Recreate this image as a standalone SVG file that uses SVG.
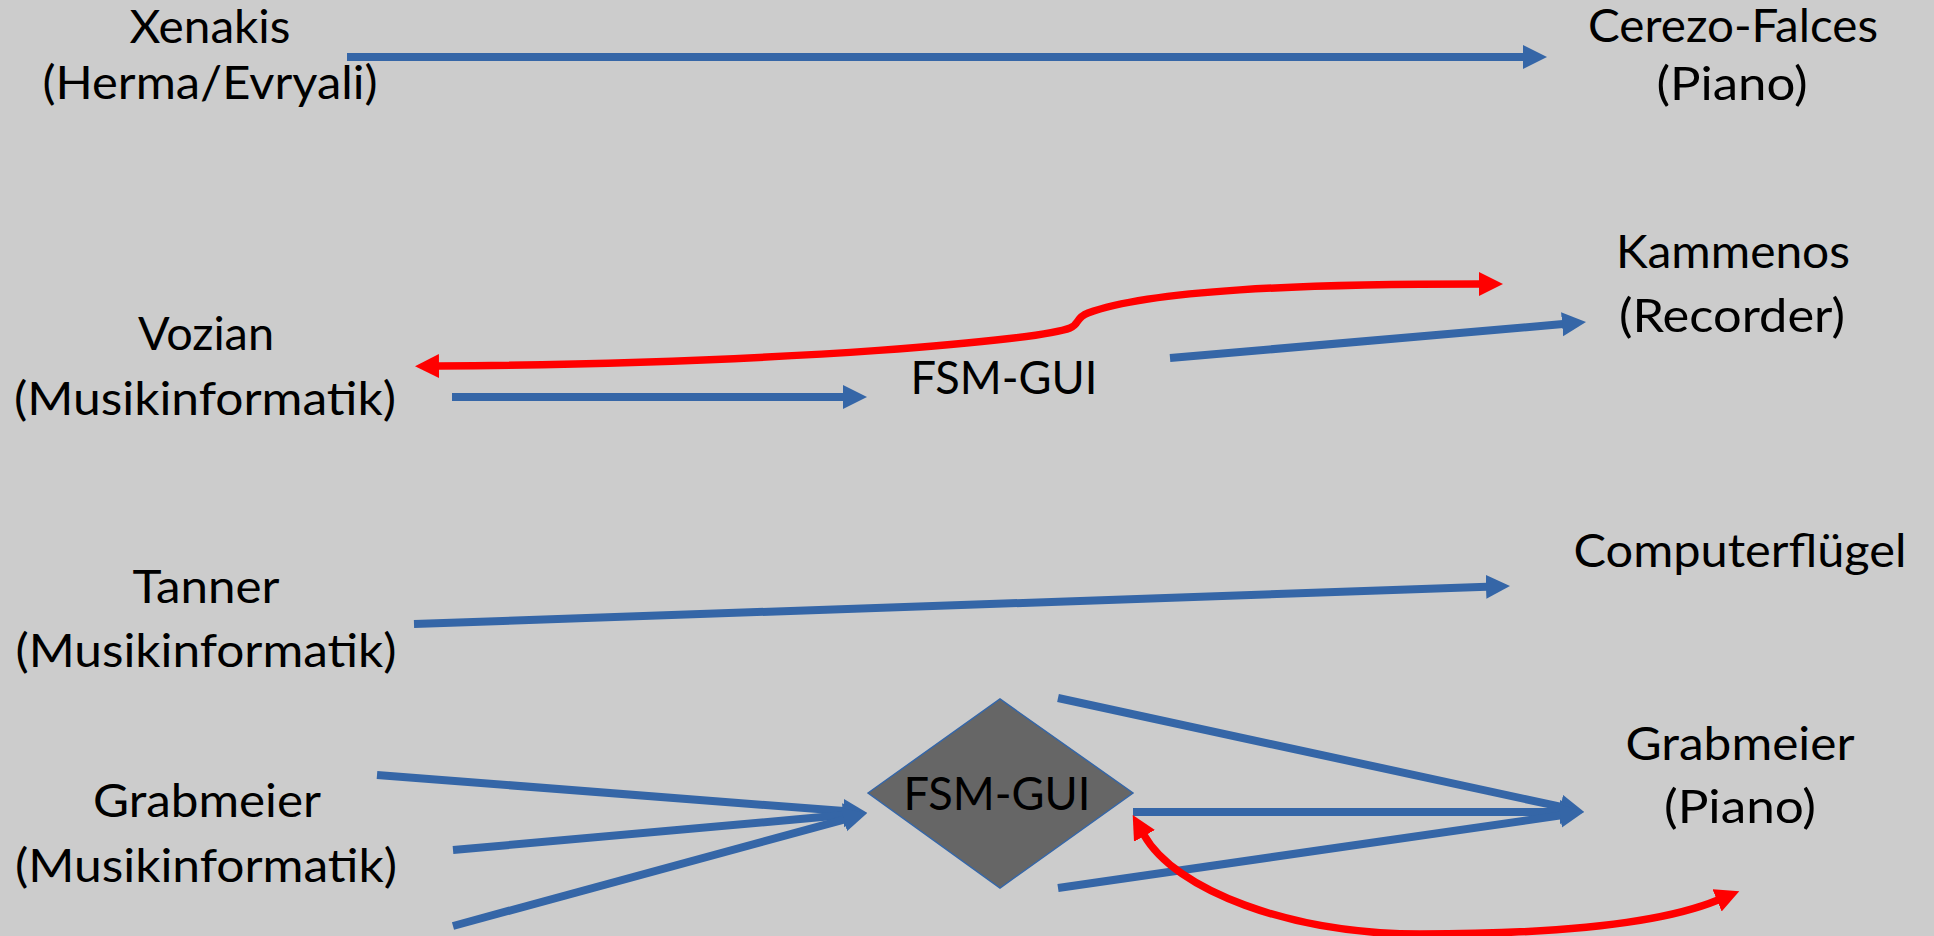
<svg xmlns="http://www.w3.org/2000/svg" width="1934" height="936" viewBox="0 0 1934 936">
  <style>
    .lbl { font-family: Lato, "Open Sans", "Liberation Sans", sans-serif; font-size: 46px; fill: #000; text-anchor: middle; }
    .flow { fill: none; stroke: #3566a7; stroke-width: 8; }
    .back { fill: none; stroke: #ff0000; stroke-width: 7.5; }
  </style>
  <defs>
    <marker id="headBlue" markerUnits="userSpaceOnUse" markerWidth="26" markerHeight="26" refX="1" refY="12" orient="auto">
      <path d="M0,0 L24,12 L0,24 Z" fill="#3566a7"/>
    </marker>
    <marker id="headRed" markerUnits="userSpaceOnUse" markerWidth="26" markerHeight="26" refX="1" refY="12" orient="auto-start-reverse">
      <path d="M0,0 L24,12 L0,24 Z" fill="#ff0000"/>
    </marker>
  </defs>

  <rect x="0" y="0" width="1934" height="936" fill="#cccccc"/>

  <!-- connectors -->
  <g id="connectors">
    <line class="flow" x1="347" y1="57" x2="1524" y2="57" marker-end="url(#headBlue)"/>
    <line class="flow" x1="452" y1="397" x2="844" y2="397" marker-end="url(#headBlue)"/>
    <line class="flow" x1="1170" y1="358" x2="1563.1" y2="324.1" marker-end="url(#headBlue)"/>
    <line class="flow" x1="414" y1="624" x2="1487" y2="586.8" marker-end="url(#headBlue)"/>

    <line class="flow" x1="377" y1="775" x2="844.1" y2="811.1" marker-end="url(#headBlue)"/>
    <line class="flow" x1="453" y1="850" x2="844.1" y2="815.1" marker-end="url(#headBlue)"/>
    <line class="flow" x1="453" y1="926" x2="844.8" y2="819.3" marker-end="url(#headBlue)"/>

    <line class="flow" x1="1058" y1="698" x2="1561.5" y2="806.9" marker-end="url(#headBlue)"/>
    <line class="flow" x1="1133" y1="812" x2="1561" y2="812" marker-end="url(#headBlue)"/>
    <line class="flow" x1="1058" y1="888" x2="1561.2" y2="815.4" marker-end="url(#headBlue)"/>

    <path class="back" d="M438,366 C800,363 1040,340 1070,328 C1080,324 1075,318 1088,313 C1150,290 1300,284 1480,284" marker-start="url(#headRed)" marker-end="url(#headRed)"/>
    <path class="back" d="M1144,835 C1175,890 1290,934 1420,934 C1560,934 1660,924 1718,900" marker-start="url(#headRed)" marker-end="url(#headRed)"/>
  </g>

  <g id="xenakis">
    <text class="lbl" x="210" y="43" textLength="161" lengthAdjust="spacingAndGlyphs">Xenakis</text>
    <text class="lbl" x="210" y="99" textLength="335" lengthAdjust="spacingAndGlyphs">(Herma/Evryali)</text>
  </g>
  <g id="cerezo-falces">
    <text class="lbl" x="1733" y="42" textLength="290" lengthAdjust="spacingAndGlyphs">Cerezo-Falces</text>
    <text class="lbl" x="1732" y="100" textLength="151" lengthAdjust="spacingAndGlyphs">(Piano)</text>
  </g>
  <g id="vozian">
    <text class="lbl" x="206" y="350" textLength="136" lengthAdjust="spacingAndGlyphs">Vozian</text>
    <text class="lbl" x="205" y="415" textLength="382" lengthAdjust="spacingAndGlyphs">(Musikinformatik)</text>
  </g>
  <g id="fsm-gui-top">
    <text class="lbl" x="1004" y="394" textLength="187" lengthAdjust="spacingAndGlyphs">FSM-GUI</text>
  </g>
  <g id="kammenos">
    <text class="lbl" x="1733" y="268" textLength="234" lengthAdjust="spacingAndGlyphs">Kammenos</text>
    <text class="lbl" x="1732" y="332" textLength="226" lengthAdjust="spacingAndGlyphs">(Recorder)</text>
  </g>
  <g id="tanner">
    <text class="lbl" x="206" y="603" textLength="147" lengthAdjust="spacingAndGlyphs">Tanner</text>
    <text class="lbl" x="206" y="667" textLength="381" lengthAdjust="spacingAndGlyphs">(Musikinformatik)</text>
  </g>
  <g id="computerfluegel">
    <text class="lbl" x="1740" y="567" textLength="333" lengthAdjust="spacingAndGlyphs">Computerflügel</text>
  </g>
  <g id="grabmeier-left">
    <text class="lbl" x="207" y="817" textLength="228" lengthAdjust="spacingAndGlyphs">Grabmeier</text>
    <text class="lbl" x="206" y="882" textLength="382" lengthAdjust="spacingAndGlyphs">(Musikinformatik)</text>
  </g>
  <g id="fsm-gui-diamond">
    <polygon points="868,793 1000,699 1133,793 1000,888" fill="#666666" stroke="#3566a7" stroke-width="1.5"/>
    <text class="lbl" x="997" y="810" textLength="187" lengthAdjust="spacingAndGlyphs">FSM-GUI</text>
  </g>
  <g id="grabmeier-right">
    <text class="lbl" x="1740" y="760" textLength="229" lengthAdjust="spacingAndGlyphs">Grabmeier</text>
    <text class="lbl" x="1740" y="823" textLength="152" lengthAdjust="spacingAndGlyphs">(Piano)</text>
  </g>
</svg>
